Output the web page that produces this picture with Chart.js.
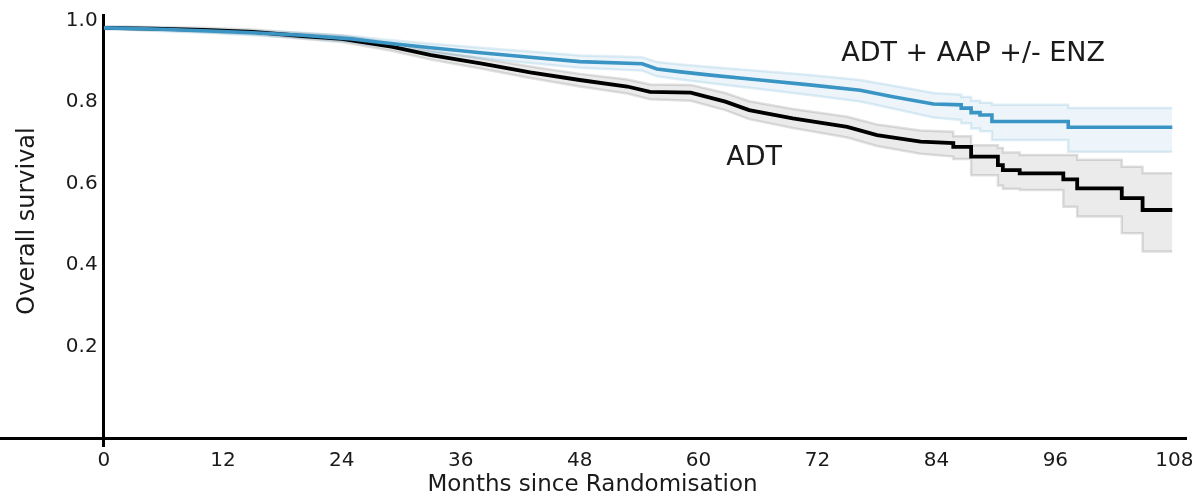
<!DOCTYPE html>
<html>
<head>
<meta charset="utf-8">
<title>Overall survival</title>
<script src="https://cdn.jsdelivr.net/npm/chart.js@4"></script>
<style>
  html, body { margin: 0; padding: 0; background: #fff; }
  #chart { display: block; }
</style>
</head>
<body>
<canvas id="chart" width="1197" height="499"></canvas>
<script>
// axis ticks
const monthTicks = [0, 12, 24, 36, 48, 60, 72, 84, 96, 108];
const survivalTicks = [0.2, 0.4, 0.6, 0.8, 1.0];

// ADT alone (black), with 95% band
const adtMonths = [0, 5, 10, 15, 20, 24, 29, 33, 38, 43, 48, 52.8, 55.1, 59.2, 62.7, 65.1, 69.5, 75.0, 78.0, 82.4,
    85.7, 85.7, 87.5, 87.5, 90.2, 90.2, 90.7, 90.7, 92.4, 92.4, 96.8, 96.8, 98.2, 98.2, 102.7, 102.7, 104.8, 104.8, 107.8];
const adtSurvival = [0.982, 0.980, 0.977, 0.972, 0.962, 0.955, 0.936, 0.915, 0.895, 0.873, 0.854, 0.838, 0.825, 0.823, 0.801, 0.780, 0.760, 0.739, 0.719, 0.703,
    0.699, 0.690, 0.690, 0.666, 0.666, 0.645, 0.645, 0.633, 0.633, 0.625, 0.625, 0.610, 0.610, 0.588, 0.588, 0.564, 0.564, 0.535, 0.535];
const adtUpper = [0.985, 0.984, 0.982, 0.978, 0.969, 0.963, 0.945, 0.926, 0.907, 0.887, 0.869, 0.855, 0.843, 0.842, 0.822, 0.802, 0.783, 0.764, 0.745, 0.730,
    0.727, 0.716, 0.716, 0.694, 0.694, 0.687, 0.687, 0.676, 0.676, 0.670, 0.670, 0.670, 0.670, 0.658, 0.658, 0.641, 0.641, 0.625, 0.625];
const adtLower = [0.979, 0.976, 0.972, 0.966, 0.955, 0.947, 0.926, 0.904, 0.882, 0.859, 0.838, 0.821, 0.807, 0.803, 0.780, 0.758, 0.736, 0.713, 0.692, 0.673,
    0.666, 0.660, 0.660, 0.620, 0.620, 0.595, 0.595, 0.587, 0.587, 0.584, 0.584, 0.543, 0.543, 0.519, 0.519, 0.478, 0.478, 0.433, 0.433];

// ADT + AAP +/- ENZ (blue), with 95% band
const aapMonths = [0, 5, 10, 15, 20, 25, 28, 33, 38, 43, 48, 54.3, 55.8, 58.2, 61.2, 66.2, 71.2, 76.3, 79.6, 83.7,
    86.5, 86.5, 87.5, 87.5, 88.4, 88.4, 89.6, 89.6, 97.3, 97.3, 107.8];
const aapSurvival = [0.982, 0.979, 0.975, 0.970, 0.964, 0.955, 0.946, 0.933, 0.921, 0.910, 0.899, 0.894, 0.881, 0.874, 0.866, 0.854, 0.842, 0.829, 0.813, 0.795,
    0.793, 0.785, 0.785, 0.774, 0.774, 0.768, 0.768, 0.752, 0.752, 0.738, 0.738];
const aapUpper = [0.985, 0.983, 0.979, 0.975, 0.970, 0.962, 0.954, 0.943, 0.933, 0.924, 0.914, 0.910, 0.898, 0.892, 0.886, 0.876, 0.866, 0.854, 0.840, 0.822,
    0.818, 0.812, 0.812, 0.803, 0.803, 0.798, 0.798, 0.793, 0.793, 0.785, 0.785];
const aapLower = [0.979, 0.975, 0.970, 0.964, 0.957, 0.947, 0.937, 0.922, 0.908, 0.896, 0.884, 0.877, 0.863, 0.855, 0.846, 0.832, 0.817, 0.801, 0.784, 0.762,
    0.756, 0.748, 0.748, 0.735, 0.735, 0.728, 0.728, 0.707, 0.707, 0.678, 0.678];

// curve labels, placed in data units
const curveLabels = [
    { text: 'ADT + AAP +/- ENZ', month: 87.7, survival: 0.918 },
    { text: 'ADT', month: 65.6, survival: 0.663 }
];

const FONT = '"DejaVu Sans", Verdana, sans-serif';

function points(months, values) {
    return months.map((m, i) => ({ x: m, y: values[i] }));
}

function band(values, months, border, fill, target) {
    return {
        data: points(months, values),
        borderColor: border,
        backgroundColor: fill,
        borderWidth: 2.5,
        pointRadius: 0,
        fill: target
    };
}

const labelPlugin = {
    id: 'curveLabels',
    afterDraw(chart) {
        const { ctx, scales } = chart;
        ctx.save();
        ctx.fillStyle = '#1a1a1a';
        ctx.font = '27px ' + FONT;
        ctx.textAlign = 'center';
        ctx.textBaseline = 'middle';
        curveLabels.forEach(l => {
            ctx.fillText(l.text, scales.x.getPixelForValue(l.month), scales.y.getPixelForValue(l.survival));
        });

        // y axis title, reading upwards
        ctx.font = '24px ' + FONT;
        ctx.textBaseline = 'alphabetic';
        ctx.translate(34, 221);
        ctx.rotate(-Math.PI / 2);
        ctx.fillText('Overall survival', 0, 0);
        ctx.restore();
    }
};

const blue = '#3a95c4';

new Chart(document.getElementById('chart'), {
    type: 'line',
    data: {
        datasets: [
            { label: 'ADT + AAP +/- ENZ', data: points(aapMonths, aapSurvival), borderColor: blue, borderWidth: 3.6, pointRadius: 0, fill: false },
            { label: 'ADT', data: points(adtMonths, adtSurvival), borderColor: '#000', borderWidth: 3.8, pointRadius: 0, fill: false },
            band(aapUpper, aapMonths, 'rgba(58,149,196,0.16)', 'rgba(58,149,196,0.09)', '+1'),
            band(aapLower, aapMonths, 'rgba(58,149,196,0.16)', 'transparent', false),
            band(adtUpper, adtMonths, 'rgba(0,0,0,0.12)', 'rgba(0,0,0,0.08)', '+1'),
            band(adtLower, adtMonths, 'rgba(0,0,0,0.12)', 'transparent', false)
        ]
    },
    options: {
        responsive: false,
        animation: false,
        layout: { padding: { top: 15, right: 12, left: 0, bottom: 0 } },
        elements: { line: { tension: 0 } },
        plugins: {
            legend: { display: false },
            tooltip: { enabled: false }
        },
        scales: {
            x: {
                type: 'linear',
                position: 'bottom',
                min: -10.49,
                max: 109.08,
                afterBuildTicks: scale => { scale.ticks = monthTicks.map(v => ({ value: v })); },
                afterFit: scale => { scale.height = 61; },
                border: { color: '#000', width: 3 },
                grid: {
                    drawOnChartArea: false,
                    tickLength: 9,
                    lineWidth: 3,
                    color: c => (c.tick && c.tick.value === 0 ? '#000' : 'rgba(0,0,0,0)')
                },
                ticks: { color: '#1a1a1a', padding: 2, font: { family: FONT, size: 20 } },
                title: {
                    display: true,
                    text: 'Months since Randomisation',
                    color: '#1a1a1a',
                    padding: 0,
                    font: { family: FONT, size: 23 }
                }
            },
            y: {
                type: 'linear',
                position: { x: 0 },
                min: -0.0245,
                max: 1.0135,
                afterBuildTicks: scale => { scale.ticks = survivalTicks.map(v => ({ value: v })); },
                border: { color: '#000', width: 3 },
                grid: { display: false },
                ticks: {
                    color: '#1a1a1a',
                    font: { family: FONT, size: 20 },
                    // trailing space keeps the label clear of the axis line
                    callback: v => v.toFixed(1) + ' '
                }
            }
        }
    },
    plugins: [labelPlugin]
});
</script>
</body>
</html>
